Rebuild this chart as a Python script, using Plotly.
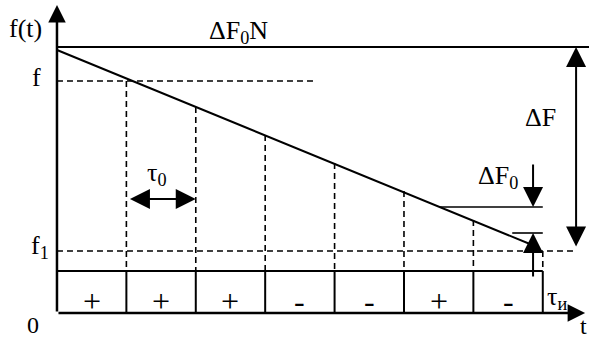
import plotly.graph_objects as go

# time in units of tau0, frequency in arbitrary units (0 = time axis)
slot_edges = [0, 1, 2, 3, 4, 5, 6, 7]
signs = ["+", "+", "+", "-", "-", "+", "-"]

ramp_t = [0, 6.85]
ramp_f = [263, 68]

f_top = 266       # ΔF0·N level
f_level = 232     # f
f1_level = 62     # f1
box_top = 42      # top of the sign row
drop_tops = [232, 206, 178, 150, 122, 93, 62]   # where the dashed drops start, t = 1..7

step_upper = 106  # ΔF0 upper level
step_lower = 80   # ΔF0 lower level
step_upper_from = 5.52
step_lower_from = 6.56

t_end = 7.61      # x-axis arrow tip
f_axis_end = 308  # y-axis arrow tip
t_right = 7.67
t_dF = 7.48
t_dF0 = 6.86

FONT = "Liberation Serif"
BLACK = "black"

fig = go.Figure()


def seg(xs, ys, dash="solid", width=2):
    fig.add_trace(go.Scatter(x=xs, y=ys, mode="lines", hoverinfo="skip",
                             line=dict(color=BLACK, width=width, dash=dash),
                             showlegend=False, cliponaxis=False))


# top level, ramp
seg([0, t_right], [f_top, f_top])
seg(ramp_t, ramp_f)

# dashed reference levels
seg([0, 3.72], [f_level, f_level], dash="6px,4px", width=1.6)
seg([0, t_dF], [f1_level, f1_level], dash="6px,4px", width=1.6)

# dashed drops from the ramp down to the sign row
xs, ys = [], []
for t, top in zip(slot_edges[1:], drop_tops):
    xs += [t, t, None]
    ys += [top, box_top, None]
seg(xs, ys, dash="6px,4px", width=1.6)

# sign row
seg([0, slot_edges[-1]], [box_top, box_top])
xs, ys = [], []
for t in slot_edges[1:]:
    xs += [t, t, None]
    ys += [0, box_top, None]
seg(xs, ys)

# ΔF0 steps
seg([step_upper_from, slot_edges[-1]], [step_upper, step_upper], width=1.6)
seg([step_lower_from, slot_edges[-1]], [step_lower, step_lower], width=1.6)


def arrow(x0, y0, x1, y1, width=2, side="end", size=2.0):
    fig.add_annotation(x=x1, y=y1, ax=x0, ay=y0, xref="x", yref="y",
                       axref="x", ayref="y", text="", showarrow=True,
                       arrowhead=2, arrowside=side, arrowsize=size,
                       arrowwidth=width, arrowcolor=BLACK, startarrowhead=2,
                       startarrowsize=size)


# axes
arrow(0, 0, 0, f_axis_end, width=2.5, size=1.4)
arrow(0, 0, t_end, 0, width=2.5, size=1.4)

# tau0, ΔF, ΔF0
arrow(1.03, 114, 2.0, 114, side="end+start")
arrow(t_dF, f1_level + 3, t_dF, f_top, side="end+start")
arrow(t_dF0, 150, t_dF0, step_upper)
arrow(t_dF0, 35, t_dF0, step_lower)

# labels: text, t, f, font size
labels = [
    ("f(t)", -0.46, 285, 26),
    ("f", -0.30, 236, 26),
    ("f<sub>1</sub>", -0.25, 66, 26),
    ("0", -0.35, -12, 24),
    ("t", 7.58, -13, 24),
    ("τ<sub>и</sub>", 7.2, 15, 26),
    ("ΔF<sub>0</sub>N", 2.62, 281, 26),
    ("ΔF", 6.96, 196, 26),
    ("ΔF<sub>0</sub>", 6.36, 136, 26),
    ("τ<sub>0</sub>", 1.44, 139, 26),
]
for text, x, y, size in labels:
    fig.add_annotation(x=x, y=y, text=text, showarrow=False,
                       font=dict(family=FONT, size=size, color=BLACK))

for i, s in enumerate(signs):
    fig.add_annotation(x=slot_edges[i] + 0.5, y=12, text=s, showarrow=False,
                       font=dict(family=FONT, size=32, color=BLACK))

fig.update_layout(
    width=589, height=340, autosize=False,
    margin=dict(l=0, r=0, t=0, b=0),
    paper_bgcolor="white", plot_bgcolor="white",
    xaxis=dict(range=[-0.821, 7.666], visible=False, fixedrange=True),
    yaxis=dict(range=[-27, 313], visible=False, fixedrange=True),
    showlegend=False,
)

fig.write_html("out.html", config={"displayModeBar": False},
               post_script="document.body.style.margin='0';")
